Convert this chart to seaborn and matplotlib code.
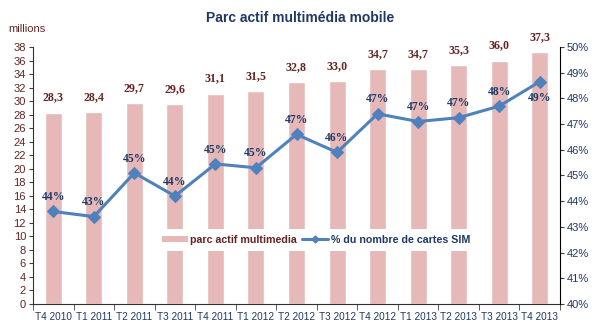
import numpy as np
import pandas as pd
import matplotlib
matplotlib.use("Agg")
import matplotlib.pyplot as plt
import seaborn as sns
from matplotlib.lines import Line2D
from matplotlib.patches import Patch

categories = ["T4 2010", "T1 2011", "T2 2011", "T3 2011", "T4 2011", "T1 2012",
              "T2 2012", "T3 2012", "T4 2012", "T1 2013", "T2 2013", "T3 2013", "T4 2013"]
parc = [28.3, 28.4, 29.7, 29.6, 31.1, 31.5, 32.8, 33.0, 34.7, 34.7, 35.3, 36.0, 37.3]
part_sim = [43.6, 43.4, 45.1, 44.2, 45.45, 45.3, 46.6, 45.9, 47.4, 47.1, 47.25, 47.7, 48.65]
part_labels = ["44%", "43%", "45%", "44%", "45%", "45%", "47%", "46%", "47%", "47%", "47%", "48%", "49%"]
left_ticks = list(range(0, 40, 2))
right_ticks = list(range(40, 51))

BAR = "#E6B9B8"
LINE = "#4F81BD"
NAVY = "#1F3864"
MAROON = "#632523"

sns.set_style("white")
plt.rcParams["font.family"] = ["Liberation Sans", "DejaVu Sans"]

df = pd.DataFrame({"cat": categories, "parc": parc, "pos": np.arange(len(categories)), "part": part_sim})

fig = plt.figure(figsize=(6.05, 3.28), dpi=100)
ax = fig.add_axes([33/605, 1-304/328, (560-33)/605, (304-47)/328])

sns.barplot(data=df, x="cat", y="parc", color=BAR, width=0.42, ax=ax, saturation=1)
ax.set_xlim(-0.5, len(categories) - 0.5)
ax.set_ylim(0, 38)
ax.set_yticks(left_ticks)
ax.set_yticklabels([str(t) for t in left_ticks], color=MAROON, fontsize=8)
ax.set_xlabel("")
ax.set_ylabel("")
ax.set_xticks(np.arange(len(categories)))
ax.set_xticklabels(categories, color=NAVY, fontsize=7.2)
ax.tick_params(axis="x", length=0, pad=6)
ax.set_xticks(np.arange(-0.5, len(categories)), minor=True)
ax.tick_params(axis="x", which="minor", length=4, direction="out", color="#404040", bottom=True)
ax.tick_params(axis="y", length=3, direction="out", color="#404040", left=True, pad=2)
for s in ["top", "right"]:
    ax.spines[s].set_visible(False)
for s in ["left", "bottom"]:
    ax.spines[s].set_color("#303030")
    ax.spines[s].set_linewidth(0.8)

for i, v in enumerate(parc):
    ax.annotate(f"{v:.1f}".replace(".", ","), (i, v), xytext=(0, 6.5), textcoords="offset points",
                ha="center", va="bottom", color=MAROON, fontsize=8.6, fontweight="bold",
                family="Liberation Serif")

ax2 = ax.twinx()
sns.lineplot(data=df, x="pos", y="part", ax=ax2, color=LINE, linewidth=2.2, marker="D",
             markersize=6, markeredgecolor=LINE)
ax2.set_ylim(40, 50)
ax2.set_yticks(right_ticks)
ax2.set_yticklabels([f"{t}%" for t in right_ticks], color=NAVY, fontsize=8)
ax2.set_ylabel("")
ax2.set_xlabel("")
ax2.tick_params(axis="y", length=3, direction="out", color="#404040", right=True, pad=2)
for s in ["top", "left", "bottom"]:
    ax2.spines[s].set_visible(False)
ax2.spines["right"].set_color("black")
ax2.spines["right"].set_linewidth(0.8)
ax2.set_xlim(-0.5, len(categories) - 0.5)

for i, (v, lab) in enumerate(zip(part_sim, part_labels)):
    dy = 6 if i < len(part_sim) - 1 else -16
    ax2.annotate(lab, (i, v), xytext=(0, dy), textcoords="offset points",
                 ha="center", va="bottom", color=NAVY, fontsize=8.4, fontweight="bold",
                 family="Liberation Serif")

handles = [Patch(facecolor=BAR, edgecolor="none"),
           Line2D([0], [0], color=LINE, lw=2.2, marker="D", markersize=3.5)]
leg = ax2.legend(handles, ["parc actif multimedia", "% du nombre de cartes SIM"],
                 loc="center", bbox_to_anchor=(0.537, 0.25), ncol=2, frameon=True,
                 fancybox=False, framealpha=1, edgecolor="none", facecolor="white",
                 prop={"weight": "bold", "size": 7.7}, handlelength=2.4, handleheight=0.6,
                 columnspacing=0.5, handletextpad=0.25, borderpad=0.55, borderaxespad=0)
leg.get_texts()[0].set_color(MAROON)
leg.get_texts()[1].set_color(NAVY)

fig.text(300/605, 1-18/328, "Parc actif multimédia mobile", ha="center", va="center",
         color=NAVY, fontsize=10, fontweight="bold")
fig.text(8/605, 1-29/328, "millions", ha="left", va="center", color=MAROON, fontsize=8)

fig.savefig("out.png", dpi=100)
